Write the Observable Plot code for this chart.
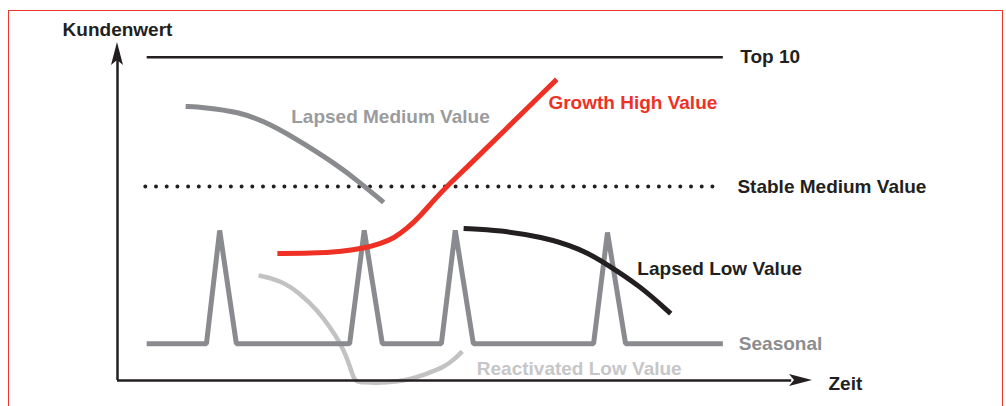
<!DOCTYPE html>
<html>
<head>
<meta charset="utf-8">
<script src="https://cdn.jsdelivr.net/npm/d3@7"></script>
<script src="https://cdn.jsdelivr.net/npm/@observablehq/plot@0.6"></script>
<style>
  html, body { margin: 0; padding: 0; background: #fff; }
  #wrap { position: relative; width: 1006px; height: 406px; overflow: hidden; }
  #frame { position: absolute; left: 8px; top: 10px; width: 995px; height: 440px;
           border: 1px solid #e8392c; box-sizing: border-box; pointer-events: none; }
  #chart { position: absolute; left: 0; top: 0; }
</style>
</head>
<body>
<div id="wrap"><div id="chart"></div><div id="frame"></div></div>
<script>
// ---- data (abstract units: Zeit 0..100, Kundenwert 0..100) ----
const top10X = [4.2, 87.1];
const top10Y = [95.6, 95.6];

const stableX = [4.0, 87.1];
const stableY = [57.4, 57.4];

const lapsedMediumX = [9.8, 12.4, 17.3, 22.0, 26.8, 31.7, 34.5, 38.3];
const lapsedMediumY = [81.1, 80.8, 79.6, 76.0, 70.1, 63.6, 59.2, 52.7];

const growthHighX = [23.0, 27.8, 32.5, 35.4, 37.8, 39.7, 41.7, 43.6, 45.5, 47.5, 49.8, 63.2];
const growthHighY = [37.6, 37.6, 38.2, 39.1, 40.5, 42.0, 45.0, 48.8, 53.3, 57.7, 62.1, 89.1];

const lapsedLowX = [49.8, 55.1, 60.9, 66.6, 70.5, 75.3, 79.6];
const lapsedLowY = [45.0, 44.4, 42.6, 39.1, 34.3, 27.8, 19.8];

const seasonalX = [4.2, 12.8, 14.7, 17.1, 33.4, 35.5, 38.1, 46.6, 48.6, 51.2, 68.5, 70.5, 73.1, 87.1];
const seasonalY = [10.9, 10.9, 44.4, 10.9, 10.9, 44.4, 10.9, 10.9, 44.4, 10.9, 10.9, 43.8, 10.9, 10.9];

const reactivatedX = [20.3, 23.5, 26.3, 28.8, 30.6, 32.1, 33.2, 34.0, 34.6, 40.7, 44.6, 46.9, 48.6, 49.6];
const reactivatedY = [31.1, 29.6, 25.7, 20.7, 15.7, 10.9, 5.9, 0.2, -0.7, -0.7, 2.1, 3.8, 6.5, 8.6];

const labelTexts = ["Top 10", "Growth High Value", "Lapsed Medium Value", "Stable Medium Value",
                    "Lapsed Low Value", "Seasonal", "Reactivated Low Value"];
const labelX = [89.6, 62.0, 25.0, 89.2, 74.8, 89.4, 51.7];
const labelY = [95.6, 82.2, 78.1, 57.4, 33.1, 10.9, 3.3];

const axisTitles = ["Kundenwert", "Zeit"];
const axisTitleX = [0, 102.3];
const axisTitleY = [103.8, -0.9];

// ---- helpers ----
const pts = (xs, ys) => xs.map((x, i) => ({x, y: ys[i]}));
const colors = {
  black: "#231f20", red: "#ee3124", gray: "#8a8b8e", grayText: "#9a9b9d",
  seasonalText: "#8c8d8f", light: "#c2c2c4", lightText: "#c6c6c8"
};
const labelColors = [colors.black, colors.red, colors.grayText, colors.black, colors.black, colors.seasonalText, colors.lightText];
const labels = labelTexts.map((t, i) => ({t, x: labelX[i], y: labelY[i], c: labelColors[i]}));
const titles = axisTitles.map((t, i) => ({t, x: axisTitleX[i], y: axisTitleY[i]}));
const font = {fontFamily: "Liberation Sans, Arial, sans-serif", fontWeight: "bold", fontSize: 19};
const lineOpts = {x: "x", y: "y", strokeLinecap: "butt", strokeLinejoin: "round"};

const chart = Plot.plot({
  width: 1006, height: 406,
  marginLeft: 117, marginRight: 194, marginTop: 42, marginBottom: 26,
  x: {domain: [0, 100], axis: null},
  y: {domain: [0, 100], axis: null},
  style: {background: "none", overflow: "visible"},
  marks: [
    Plot.line(pts(reactivatedX, reactivatedY), {...lineOpts, stroke: colors.light, strokeWidth: 4.5, curve: "basis"}),
    Plot.line(pts(top10X, top10Y), {...lineOpts, stroke: colors.black, strokeWidth: 2.5}),
    Plot.line(pts(stableX, stableY), {...lineOpts, stroke: colors.black, strokeWidth: 4, strokeLinecap: "round", strokeDasharray: "0 10.7"}),
    Plot.line(pts(lapsedMediumX, lapsedMediumY), {...lineOpts, stroke: colors.gray, strokeWidth: 5, curve: "basis"}),
    Plot.line(pts(seasonalX, seasonalY), {...lineOpts, stroke: colors.gray, strokeWidth: 5, strokeLinejoin: "miter"}),
    Plot.line(pts(growthHighX, growthHighY), {...lineOpts, stroke: colors.red, strokeWidth: 5, curve: "basis"}),
    Plot.line(pts(lapsedLowX, lapsedLowY), {...lineOpts, stroke: colors.black, strokeWidth: 5, curve: "basis"}),
    Plot.ruleX([0], {y1: 0, y2: 96, stroke: colors.black, strokeWidth: 2.5}),
    Plot.ruleY([0], {x1: 0, x2: 97, stroke: colors.black, strokeWidth: 2.5}),
    Plot.text(labels, {x: "x", y: "y", text: "t", fill: "c", textAnchor: "start", lineAnchor: "middle", ...font}),
    Plot.text(titles.slice(0, 1), {x: "x", y: "y", text: "t", fill: colors.black, textAnchor: "middle", lineAnchor: "middle", ...font}),
    Plot.text(titles.slice(1), {x: "x", y: "y", text: "t", fill: colors.black, textAnchor: "start", lineAnchor: "middle", ...font})
  ]
});

// arrowheads at the axis ends, placed through the plot's own scales
const sx = chart.scale("x"), sy = chart.scale("y");
const svg = d3.select(chart);
const ox = sx.apply(0), oy = sy.apply(0);
const tipY = sy.apply(100), tipX = sx.apply(100);
const L = 23, W = 6, N = 18;
svg.append("path")
  .attr("d", `M${ox},${tipY}L${ox - W},${tipY + L}L${ox},${tipY + N}L${ox + W},${tipY + L}Z`)
  .attr("fill", colors.black);
svg.append("path")
  .attr("d", `M${tipX},${oy}L${tipX - L},${oy - W}L${tipX - N},${oy}L${tipX - L},${oy + W}Z`)
  .attr("fill", colors.black);

document.getElementById("chart").appendChild(chart);
</script>
</body>
</html>
